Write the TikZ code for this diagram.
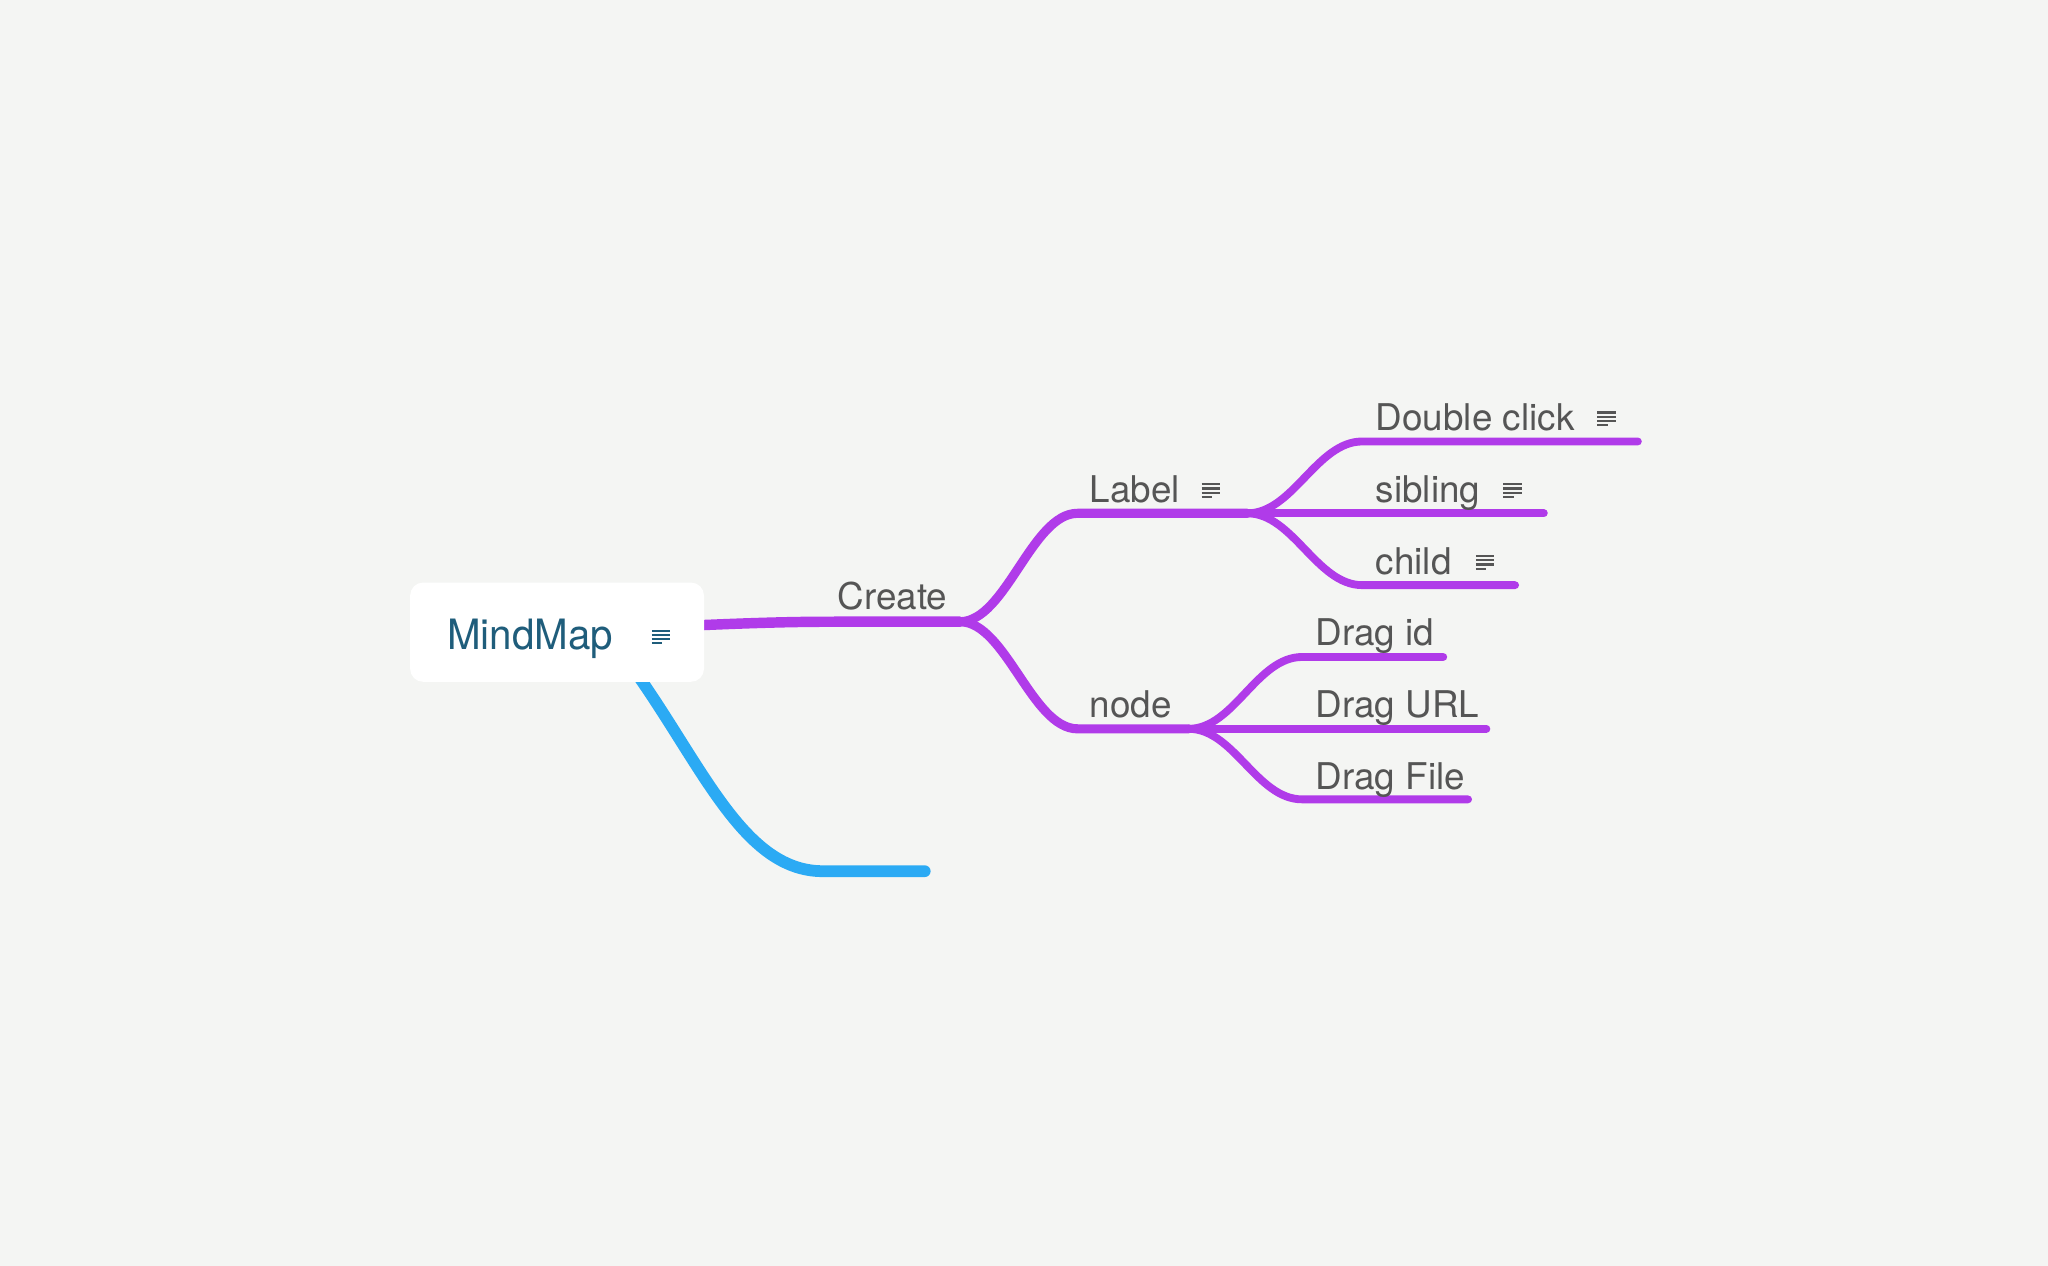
\documentclass[tikz,border=0pt]{standalone}
\usepackage{fontspec}
\setmainfont{TeX Gyre Heros}
\usetikzlibrary{positioning}
\definecolor{bgcol}{HTML}{F4F5F3}
\definecolor{purp}{HTML}{B03BE9}
\definecolor{skyb}{HTML}{2BAAF4}
\definecolor{txtgray}{HTML}{555555}
\definecolor{rootcol}{HTML}{1F5D7B}
\pgfdeclarelayer{bg}
\pgfdeclarelayer{lines}
\pgfsetlayers{bg,lines,main}
\tikzset{
  rootbox/.style={fill=white, rounded corners=5pt, minimum width=112.5pt, minimum height=38pt, inner sep=0pt},
  rootlbl/.style={anchor=base west, inner sep=0pt, text=rootcol, font=\fontsize{16}{19}\selectfont},
  lbl/.style={anchor=base west, inner sep=0pt, text=txtgray, font=\fontsize{14.1}{17}\selectfont},
  trunk/.style={draw=purp, line width=4pt, line cap=round},
  branch/.style={draw=purp, line width=3.5pt, line cap=round},
  leaf/.style={draw=purp, line width=3pt, line cap=round},
  blueline/.style={draw=skyb, line width=4.5pt, line cap=round}
}
% notes icon: top left corner, colour
\newcommand\notes[2]{
  \begin{scope}[shift={(#1)}]
  \foreach \yy/\ll in {0.8/14,4/14,7.2/14,10.4/8}
    \draw[#2, line width=0.8pt] (0,\yy) -- (\ll,\yy);
  \end{scope}}

\begin{document}
\begin{tikzpicture}[x=0.5pt,y=-0.5pt]
\begin{pgfonlayer}{bg}
\fill[bgcol] (0,0) rectangle (1568,969);
\end{pgfonlayer}
\useasboundingbox (0,0) rectangle (1568,969);

\node[rootbox] (root) at (426.5,484) {};
\node[rootlbl] (mindmap) at (342,497.5) {\scalebox{0.965}[1]{MindMap}};
\notes{499,482}{rootcol}

\node[lbl] (create) at (641,467) {Create};
\node[lbl] (label) at (834,384.5) {Label};
\notes{920,370}{txtgray}
\node[lbl] (node) at (834,549.5) {node};
\node[lbl] (dbl) at (1053,329.5) {Double click};
\notes{1223,315}{txtgray}
\node[lbl] (sib) at (1053,384.5) {sibling};
\notes{1151,370}{txtgray}
\node[lbl] (chd) at (1053,439.5) {child};
\notes{1130,425}{txtgray}
\node[lbl] (dragid) at (1007,494.5) {Drag id};
\node[lbl] (dragurl) at (1007,549.5) {Drag URL};
\node[lbl] (dragfile) at (1007,604.5) {Drag File};

\coordinate (bs) at (476,500);
\coordinate (ba) at (630,667);
\coordinate (be) at (708,667);
\coordinate (tr) at (640,476);
\coordinate (fc) at (735,476);
\coordinate (la) at (825,393);
\coordinate (fl) at (955,393);
\coordinate (na) at (825,558);
\coordinate (fn) at (910,558);
\coordinate (da) at (1043,338);
\coordinate (de) at (1254,338);
\coordinate (se) at (1182,393);
\coordinate (ca) at (1043,448);
\coordinate (ce) at (1160,448);
\coordinate (ia) at (997,503);
\coordinate (ie) at (1105,503);
\coordinate (ue) at (1138,558);
\coordinate (fa) at (997,612);
\coordinate (fe) at (1124,612);

\begin{pgfonlayer}{lines}
\draw[blueline] (bs) .. controls (535,578) and (566,667) .. (ba) -- (be);
\draw[trunk] (root.center) .. controls (560,477) and (600,476) .. (tr) -- (fc);
\draw[branch] (fc) .. controls +(35,0) and +(-35,0) .. (la) -- (fl);
\draw[branch] (fc) .. controls +(35,0) and +(-35,0) .. (na) -- (fn);
\draw[leaf] (fl) .. controls +(35,0) and +(-35,0) .. (da) -- (de);
\draw[leaf] (fl) -- (se);
\draw[leaf] (fl) .. controls +(35,0) and +(-35,0) .. (ca) -- (ce);
\draw[leaf] (fn) .. controls +(35,0) and +(-35,0) .. (ia) -- (ie);
\draw[leaf] (fn) -- (ue);
\draw[leaf] (fn) .. controls +(35,0) and +(-35,0) .. (fa) -- (fe);
\end{pgfonlayer}
\end{tikzpicture}
\end{document}
